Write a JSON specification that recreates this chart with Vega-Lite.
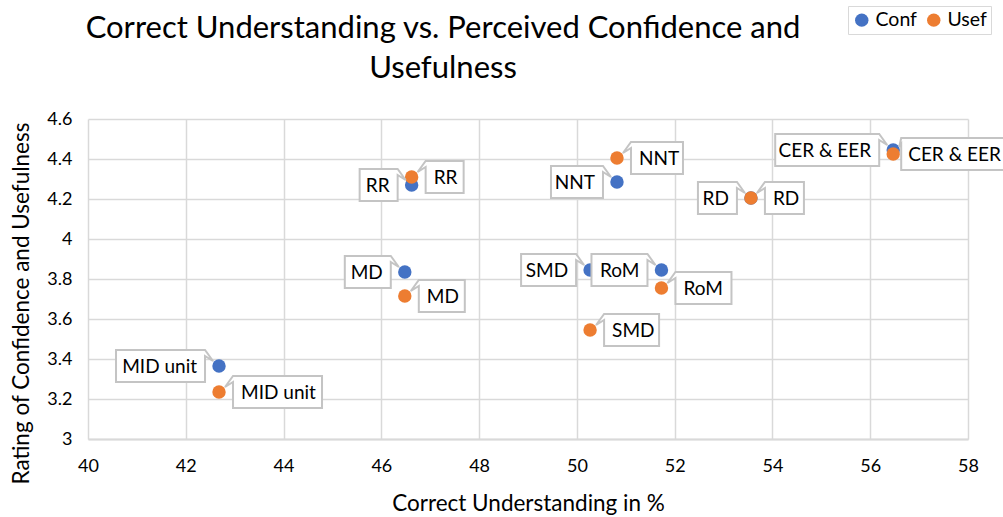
{
  "$schema": "https://vega.github.io/schema/vega-lite/v6.json",
  "width": 880,
  "height": 320,
  "autosize": "none",
  "padding": {"left": 88, "top": 119, "right": 35, "bottom": 78},
  "background": "white",
  "title": {
    "text": ["Correct Understanding vs. Perceived Confidence and", "Usefulness"],
    "font": "Lato",
    "fontSize": 31,
    "fontWeight": "normal",
    "color": "#000000",
    "anchor": "middle",
    "frame": "group",
    "dx": -85,
    "offset": -79,
    "lineHeight": 40
  },
  "config": {
    "view": {"stroke": null},
    "font": "Lato",
    "axis": {
      "labelFont": "Lato",
      "titleFont": "Lato",
      "labelFontSize": 18,
      "titleFontSize": 22.5,
      "titleFontWeight": "normal",
      "labelColor": "#000000",
      "titleColor": "#000000",
      "gridColor": "#d9d9d9",
      "gridWidth": 1.5,
      "ticks": false,
      "labelFlush": false,
      "domainColor": "#d9d9d9",
      "domainWidth": 2
    }
  },
  "data": {
    "values": [
      {"label": "MID unit", "pct": 42.68, "measure": "Conf", "rating": 3.365},
      {"label": "MD", "pct": 46.48, "measure": "Conf", "rating": 3.835},
      {"label": "RR", "pct": 46.62, "measure": "Conf", "rating": 4.27},
      {"label": "NNT", "pct": 50.82, "measure": "Conf", "rating": 4.285},
      {"label": "SMD", "pct": 50.27, "measure": "Conf", "rating": 3.845},
      {"label": "RoM", "pct": 51.73, "measure": "Conf", "rating": 3.845},
      {"label": "RD", "pct": 53.56, "measure": "Conf", "rating": 4.205},
      {"label": "CER & EER", "pct": 56.47, "measure": "Conf", "rating": 4.445},
      {"label": "MID unit", "pct": 42.68, "measure": "Usef", "rating": 3.235},
      {"label": "MD", "pct": 46.48, "measure": "Usef", "rating": 3.715},
      {"label": "RR", "pct": 46.62, "measure": "Usef", "rating": 4.31},
      {"label": "NNT", "pct": 50.82, "measure": "Usef", "rating": 4.405},
      {"label": "SMD", "pct": 50.27, "measure": "Usef", "rating": 3.545},
      {"label": "RoM", "pct": 51.73, "measure": "Usef", "rating": 3.755},
      {"label": "RD", "pct": 53.56, "measure": "Usef", "rating": 4.205},
      {"label": "CER & EER", "pct": 56.47, "measure": "Usef", "rating": 4.425}
    ]
  },
  "encoding": {
    "x": {
      "field": "pct",
      "type": "quantitative",
      "scale": {"domain": [40, 58], "nice": false, "zero": false},
      "axis": {
        "values": [40, 42, 44, 46, 48, 50, 52, 54, 56, 58],
        "title": "Correct Understanding in %",
        "labelPadding": 18,
        "titlePadding": 17
      }
    },
    "y": {
      "field": "rating",
      "type": "quantitative",
      "scale": {"domain": [3, 4.6], "nice": false, "zero": false},
      "axis": {
        "values": [3, 3.2, 3.4, 3.6, 3.8, 4, 4.2, 4.4, 4.6],
        "format": "~g",
        "title": "Rating of Confidence and Usefulness",
        "labelPadding": 16,
        "titlePadding": 13,
        "titleY": 184,
        "domain": false
      }
    }
  },
  "layer": [
    {
      "mark": {"type": "point", "filled": true, "size": 180, "opacity": 1, "shape": "circle"},
      "encoding": {
        "color": {
          "field": "measure",
          "type": "nominal",
          "scale": {"domain": ["Conf", "Usef"], "range": ["#4472C4", "#ED7D31"]},
          "legend": {
            "title": null,
            "orient": "none",
            "legendX": 760,
            "legendY": -113,
            "direction": "horizontal",
            "strokeColor": "#d9d9d9",
            "padding": 4,
            "symbolSize": 180,
            "symbolType": "circle",
            "symbolOpacity": 1,
            "labelFont": "Lato",
            "labelFontSize": 19.5,
            "labelColor": "#000000",
            "labelOffset": 4,
            "columnPadding": 7
          }
        }
      }
    },
    {
      "transform": [{"filter": "datum.measure === 'Conf'"}],
      "mark": {"type": "point", "filled": true, "size": 4, "opacity": 1, "fill": "white", "stroke": "#c4c4c4", "strokeWidth": 2},
      "encoding": {
        "shape": {
          "field": "label",
          "type": "nominal",
          "legend": null,
          "scale": {
            "domain": ["MID unit", "MD", "RR", "NNT", "SMD", "RoM", "RD", "CER & EER"],
            "range": [
              "M -103 -16 L -14 -16 L -6 -5 L -14 -10 L -14 16 L -103 16 Z",
              "M -60 -16 L -14 -16 L -6 -5 L -14 -10 L -14 16 L -60 16 Z",
              "M -52 -16 L -14 -16 L -6 -5 L -14 -10 L -14 16 L -52 16 Z",
              "M -66 -16 L -14 -16 L -6 -5 L -14 -10 L -14 16 L -66 16 Z",
              "M -69 -16 L -14 -16 L -6 -5 L -14 -10 L -14 16 L -69 16 Z",
              "M -70 -16 L -14 -16 L -6 -5 L -14 -10 L -14 16 L -70 16 Z",
              "M -53 -16 L -14 -16 L -6 -5 L -14 -10 L -14 16 L -53 16 Z",
              "M -118 -16 L -14 -16 L -6 -5 L -14 -10 L -14 16 L -118 16 Z"
            ]
          }
        }
      }
    },
    {
      "transform": [{"filter": "datum.measure === 'Conf'"}],
      "mark": {"type": "text", "align": "right", "baseline": "middle", "dx": -22, "dy": 1, "font": "Lato", "fontSize": 19, "color": "#000000"},
      "encoding": {"text": {"field": "label"}}
    },
    {
      "transform": [{"filter": "datum.measure === 'Usef'"}],
      "mark": {"type": "point", "filled": true, "size": 4, "opacity": 1, "fill": "white", "stroke": "#c4c4c4", "strokeWidth": 2},
      "encoding": {
        "shape": {
          "field": "label",
          "type": "nominal",
          "legend": null,
          "scale": {
            "domain": ["MID unit", "MD", "RR", "NNT", "SMD", "RoM", "RD", "CER & EER"],
            "range": [
              "M 14 -16 L 103 -16 L 103 16 L 14 16 L 14 -10 L 6 -5 Z",
              "M 14 -16 L 60 -16 L 60 16 L 14 16 L 14 -10 L 6 -5 Z",
              "M 14 -16 L 52 -16 L 52 16 L 14 16 L 14 -10 L 6 -5 Z",
              "M 14 -16 L 66 -16 L 66 16 L 14 16 L 14 -10 L 6 -5 Z",
              "M 14 -16 L 69 -16 L 69 16 L 14 16 L 14 -10 L 6 -5 Z",
              "M 14 -16 L 70 -16 L 70 16 L 14 16 L 14 -10 L 6 -5 Z",
              "M 14 -16 L 53 -16 L 53 16 L 14 16 L 14 -10 L 6 -5 Z",
              "M 8 -16 L 112 -16 L 112 16 L 8 16 L 8 -10 L 6 -7 Z"
            ]
          }
        }
      }
    },
    {
      "transform": [{"filter": "datum.measure === 'Usef' && datum.label !== 'CER & EER'"}],
      "mark": {"type": "text", "align": "left", "baseline": "middle", "dx": 22, "dy": 1, "font": "Lato", "fontSize": 19, "color": "#000000"},
      "encoding": {"text": {"field": "label"}}
    },
    {
      "transform": [{"filter": "datum.measure === 'Usef' && datum.label === 'CER & EER'"}],
      "mark": {"type": "text", "align": "left", "baseline": "middle", "dx": 15, "dy": 1, "font": "Lato", "fontSize": 19, "color": "#000000"},
      "encoding": {"text": {"field": "label"}}
    }
  ],
  "resolve": {"scale": {"shape": "independent"}}
}
